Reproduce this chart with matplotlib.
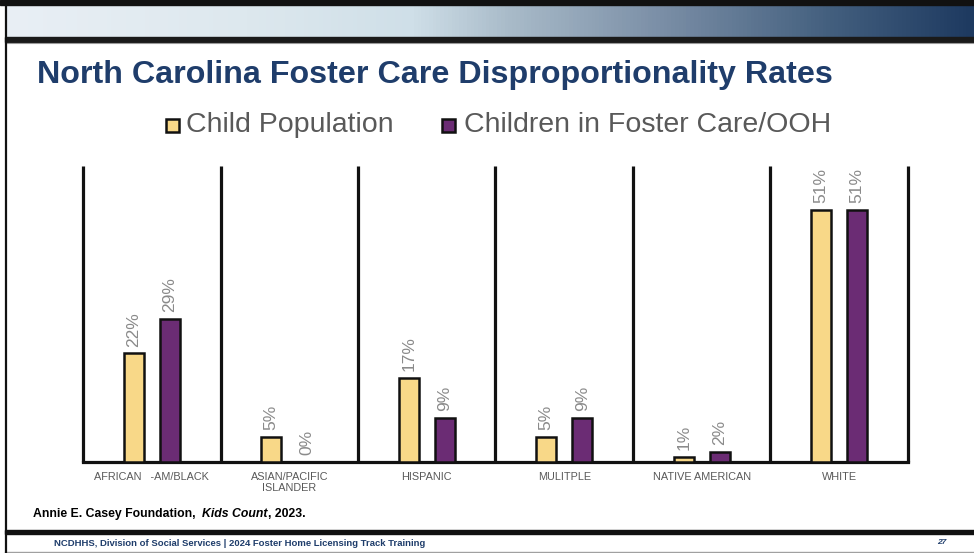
import matplotlib.pyplot as plt
import numpy as np
from matplotlib.colors import LinearSegmentedColormap
from matplotlib.patches import Rectangle

plt.rcParams['font.family'] = ['Liberation Sans', 'DejaVu Sans']

categories = ['AFRICAN   -AM/BLACK', 'ASIAN/PACIFIC\nISLANDER', 'HISPANIC',
              'MULITPLE', 'NATIVE AMERICAN', 'WHITE']
child_population = [22, 5, 17, 5, 1, 51]
foster_care = [29, 0, 9, 9, 2, 51]
series_names = ['Child Population', 'Children in Foster Care/OOH']

yellow = '#F8D888'
purple = '#6B2C74'
navy = '#1F3D6B'

W, H = 974, 553
fig = plt.figure(figsize=(W / 100, H / 100), dpi=100)

# slide background drawn in pixel coords
bg = fig.add_axes([0, 0, 1, 1], zorder=0)
bg.set_xlim(0, W)
bg.set_ylim(H, 0)
bg.axis('off')

grad_cmap = LinearSegmentedColormap.from_list('hdr', [
    (0.0, '#E9EFF5'), (0.25, '#DDE8EE'), (0.42, '#CFDFE8'),
    (0.52, '#A9BBC9'), (0.68, '#7A8EA6'), (0.85, '#44607F'), (1.0, '#1E3A60')])
grad = np.linspace(0, 1, 256).reshape(1, -1)
bg.imshow(grad, extent=(5, W, 37, 5), aspect='auto', cmap=grad_cmap, zorder=1)
bg.add_patch(Rectangle((0, 0), W, 5, color='#111111', zorder=2))
bg.add_patch(Rectangle((5, 37), W, 5, color='#1A1A1A', zorder=2))
bg.plot([5, W], [42.5, 42.5], color='#9A9A9A', lw=0.8, zorder=2)
bg.plot([5.5, 5.5], [0, H], color='#111111', lw=1.6, zorder=3)
bg.add_patch(Rectangle((5, 530), W, 4, color='#111111', zorder=2))
bg.plot([5, W], [551.5, 551.5], color='#A0A0A0', lw=1.0, zorder=2)

bg.text(37, 75, 'North Carolina Foster Care Disproportionality Rates',
        fontsize=23.2, fontweight='bold', color=navy, va='center', ha='left')

# legend
for x0, col, label, tx in [(166, yellow, series_names[0], 186),
                           (442, purple, series_names[1], 464)]:
    bg.add_patch(Rectangle((x0, 119), 13, 13, facecolor=col,
                           edgecolor='#111111', lw=1.8, zorder=3))
    bg.text(tx, 125, label, fontsize=20.5, color='#595959', va='center', ha='left')

# source line, pieces placed one after the other
renderer = fig.canvas.get_renderer()
xpos = 33
for piece, st in [('Annie E. Casey Foundation,  ', 'normal'),
                  ('Kids Count', 'italic'), (', 2023.', 'normal')]:
    t = bg.text(xpos, 514, piece, fontsize=8.8, fontweight='bold', style=st,
                color='black', va='center', ha='left')
    bb = t.get_window_extent(renderer)
    xpos += bb.width

bg.text(240, 543, 'NCDHHS, Division of Social Services | 2024 Foster Home Licensing Track Training',
        fontsize=6.8, fontweight='bold', color=navy, va='center', ha='center')
bg.text(942, 543, '27', fontsize=6, fontweight='bold', style='italic',
        color=navy, va='center', ha='center')

# chart
ax = fig.add_axes([83 / W, 1 - 462 / H, 825 / W, 296 / H], zorder=2)
ax.patch.set_alpha(0)
x = np.arange(len(categories))
bw = 0.145
off = 0.131
b1 = ax.bar(x - off, child_population, bw, color=yellow, edgecolor='#111111', lw=1.8, zorder=3)
b2 = ax.bar(x + off, foster_care, bw, color=purple, edgecolor='#111111', lw=1.8, zorder=3)

for bars, vals in [(b1, child_population), (b2, foster_care)]:
    for rect, v in zip(bars, vals):
        ax.annotate(f'{v}%', (rect.get_x() + rect.get_width() / 2, v),
                    xytext=(0, 5), textcoords='offset points', rotation=90,
                    ha='center', va='bottom', fontsize=12.5, color='#8A8A8A')

ax.vlines(np.arange(-0.5, len(categories)), 0, 60, colors='#111111', lw=2.3,
          zorder=2, clip_on=False)
ax.set_xlim(-0.5, len(categories) - 0.5)
ax.set_ylim(0, 60)
for s in ['top', 'left', 'right']:
    ax.spines[s].set_visible(False)
ax.spines['bottom'].set_linewidth(2.3)
ax.spines['bottom'].set_color('#111111')
ax.set_yticks([])
ax.set_xticks(x)
ax.set_xticklabels(categories, fontsize=7.8, color='#595959', linespacing=1.15)
ax.tick_params(axis='x', length=0, pad=7)

fig.savefig('out.png', dpi=100)
